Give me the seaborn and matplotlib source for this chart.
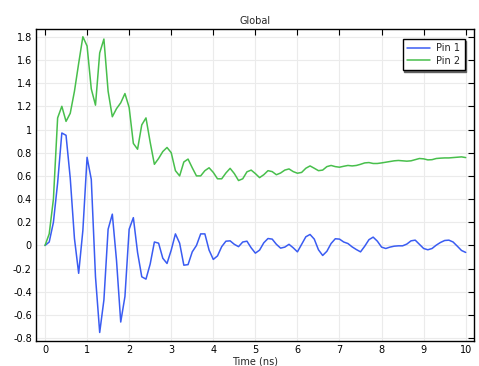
import numpy as np
import pandas as pd
import matplotlib
matplotlib.use("Agg")
import matplotlib.pyplot as plt
import seaborn as sns
from matplotlib.ticker import FormatStrFormatter, MultipleLocator

time_ns = np.linspace(0, 10, 101)

pin1 = [0.0, 0.03, 0.2, 0.54, 0.97, 0.95, 0.58, 0.06, -0.24, 0.13,
        0.76, 0.57, -0.27, -0.75, -0.47, 0.14, 0.27, -0.13, -0.66, -0.44,
        0.14, 0.24, -0.06, -0.27, -0.29, -0.16, 0.03, 0.02, -0.11, -0.155,
        -0.04, 0.1, 0.02, -0.17, -0.165, -0.055, 0.0, 0.1, 0.1, -0.04,
        -0.12, -0.09, -0.01, 0.037, 0.04, 0.01, -0.01, 0.03, 0.037, -0.02,
        -0.066, -0.04, 0.023, 0.06, 0.055, 0.01, -0.023, -0.014, 0.01, -0.02,
        -0.055, 0.01, 0.075, 0.095, 0.055, -0.037, -0.086, -0.05, 0.017, 0.058,
        0.055, 0.03, 0.017, -0.012, -0.035, -0.055, -0.006, 0.05, 0.072, 0.037,
        -0.014, -0.026, -0.014, -0.006, -0.003, -0.003, 0.012, 0.04, 0.046, 0.01,
        -0.026, -0.037, -0.026, 0.003, 0.026, 0.043, 0.046, 0.03, -0.006, -0.043, -0.06]

pin2 = [0.0, 0.1, 0.4, 1.1, 1.2, 1.07, 1.14, 1.33, 1.57, 1.8,
        1.72, 1.35, 1.21, 1.66, 1.78, 1.33, 1.11, 1.18, 1.23, 1.31,
        1.19, 0.88, 0.83, 1.04, 1.1, 0.89, 0.7, 0.75, 0.81, 0.845,
        0.8, 0.645, 0.6, 0.72, 0.745, 0.67, 0.6, 0.6, 0.645, 0.67,
        0.63, 0.575, 0.575, 0.625, 0.665, 0.62, 0.56, 0.575, 0.635, 0.65,
        0.62, 0.585, 0.61, 0.645, 0.637, 0.61, 0.625, 0.65, 0.66, 0.637,
        0.623, 0.63, 0.666, 0.686, 0.666, 0.645, 0.65, 0.68, 0.69, 0.68,
        0.675, 0.683, 0.69, 0.686, 0.69, 0.70, 0.712, 0.715, 0.707, 0.707,
        0.712, 0.718, 0.724, 0.73, 0.733, 0.73, 0.727, 0.73, 0.74, 0.75,
        0.747, 0.738, 0.74, 0.75, 0.753, 0.755, 0.755, 0.758, 0.761, 0.764, 0.758]

series_names = ["Pin 1", "Pin 2"]
colors = ["#3a5cf2", "#48bf4c"]

df = pd.concat([
    pd.DataFrame({"t": time_ns, "v": pin1, "s": series_names[0]}),
    pd.DataFrame({"t": time_ns, "v": pin2, "s": series_names[1]}),
])

sns.set_style("white")
plt.rcParams["font.family"] = ["DejaVu Sans"]
fs = 7

fig = plt.figure(figsize=(4.79, 3.66), dpi=100)
ax = fig.add_axes([36 / 479, (366 - 340.7) / 366, 438 / 479, 311.4 / 366])

sns.lineplot(data=df, x="t", y="v", hue="s", palette=colors, linewidth=1.1,
             ax=ax, legend=True)

ax.set_xlim(-0.214, 10.197)
ax.set_ylim(-0.821, 1.864)
ax.xaxis.set_major_locator(MultipleLocator(1))
ax.yaxis.set_major_locator(MultipleLocator(0.2))
ax.yaxis.set_major_formatter(FormatStrFormatter("%g"))
ax.grid(True, color="#ebebeb", linewidth=0.8)
ax.tick_params(direction="in", length=4, width=0.8, top=True, right=True,
               labelsize=fs, pad=3, colors="black")
for sp in ax.spines.values():
    sp.set_color("black")
    sp.set_linewidth(1.0)

ax.set_xlabel("Time (ns)", fontsize=fs, labelpad=1)
ax.set_ylabel("")
ax.set_title("Global", fontsize=fs, pad=4)

leg = ax.legend(loc="upper right", bbox_to_anchor=(0.979, 0.969), borderaxespad=0,
                fontsize=fs, frameon=True, fancybox=False,
                shadow={"ox": 1.2, "oy": -1.2, "color": "0.35", "alpha": 0.9},
                handlelength=2.4, handletextpad=0.6, borderpad=0.45, labelspacing=0.25)
leg.get_frame().set_edgecolor("black")
leg.get_frame().set_linewidth(1.0)

fig.savefig("out.png", dpi=100)
